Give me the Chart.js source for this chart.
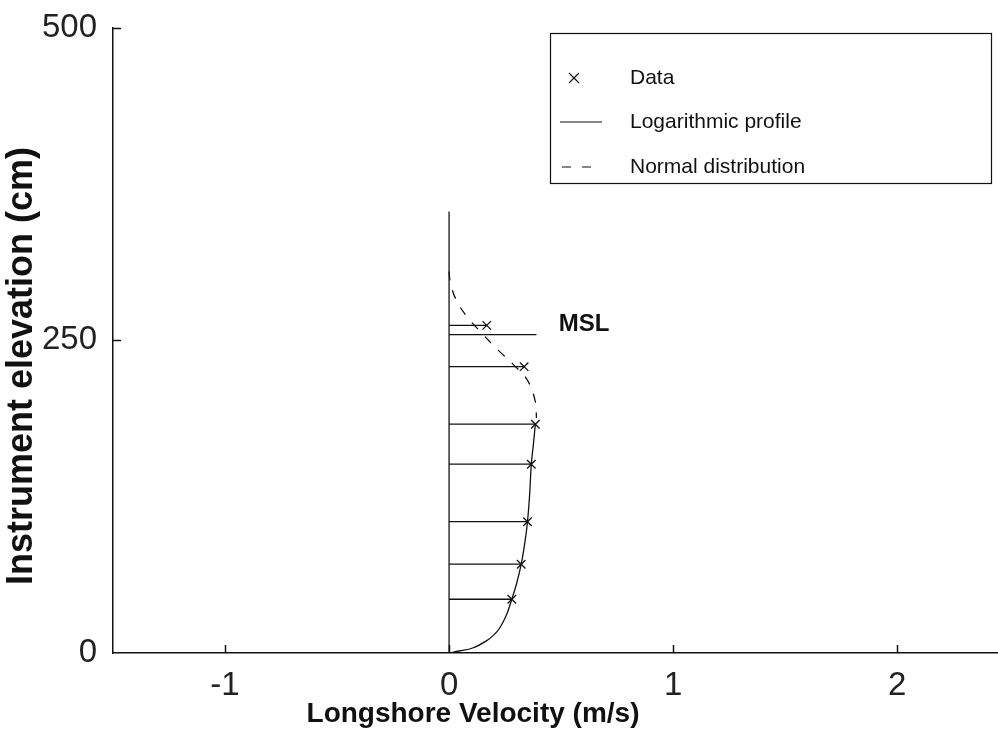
<!DOCTYPE html>
<html>
<head>
<meta charset="utf-8">
<script src="https://cdn.jsdelivr.net/npm/chart.js@4.4.1/dist/chart.umd.min.js"></script>
<style>
  html, body { margin: 0; padding: 0; background: #fff; }
  #wrap { width: 998px; height: 738px; position: relative; }
</style>
</head>
<body>
<div id="wrap"><canvas id="profile-chart"></canvas></div>
<script>
// measured velocities (m/s) at each instrument height (cm)
const dataVelocity = [0.168, 0.335, 0.385, 0.367, 0.35, 0.322, 0.28];
const dataElevation = [262, 229, 183, 151, 105, 71, 43];

// logarithmic profile
const logVelocity = [0, 0.045, 0.105, 0.165, 0.2, 0.226, 0.255, 0.28, 0.302, 0.322, 0.338, 0.35, 0.36, 0.367, 0.377, 0.385];
const logElevation = [0, 1.6, 4, 9.5, 14.5, 20, 30, 43, 56, 71, 88, 105, 128, 151, 168, 183];

// normal distribution
const normVelocity = [0, 0.005, 0.03, 0.08, 0.15, 0.22, 0.285, 0.35, 0.385, 0.39];
const normElevation = [305, 297, 283, 269, 255, 242, 231, 218, 201, 188];

// mean sea level line and the zero-velocity line
const mslElevation = 254.6;
const mslVelocity = 0.39;
const zeroLineTop = 353;

const xTicks = [-1, 0, 1, 2];
const yTicks = [0, 250, 500];

const ink = '#111';
const sans = '"Liberation Sans", Arial, sans-serif';

const stemSets = dataVelocity.map((v, i) => ({
  data: [{ x: 0, y: dataElevation[i] }, { x: v, y: dataElevation[i] }],
  borderColor: ink, borderWidth: 1.3, pointRadius: 0, showLine: true
}));

// axis titles, inward ticks, MSL label and the boxed legend
const decorations = {
  id: 'decorations',
  afterDraw(chart) {
    const { ctx, chartArea, scales: { x, y } } = chart;
    ctx.save();
    ctx.strokeStyle = ink;
    ctx.lineWidth = 1.5;
    ctx.beginPath();
    xTicks.forEach(v => {
      const px = Math.round(x.getPixelForValue(v)) + 0.5;
      ctx.moveTo(px, chartArea.bottom);
      ctx.lineTo(px, chartArea.bottom - 8);
    });
    yTicks.slice(1).forEach(v => {
      const py = Math.round(y.getPixelForValue(v)) + 0.5;
      ctx.moveTo(chartArea.left, py);
      ctx.lineTo(chartArea.left + 8, py);
    });
    ctx.stroke();

    ctx.fillStyle = ink;
    ctx.font = 'bold 24px ' + sans;
    ctx.textAlign = 'left';
    ctx.textBaseline = 'middle';
    ctx.fillText('MSL', x.getPixelForValue(0.49), y.getPixelForValue(263));

    ctx.font = 'bold 28px ' + sans;
    ctx.textAlign = 'center';
    ctx.fillText('Longshore Velocity (m/s)', 473, 714);
    ctx.save();
    ctx.translate(22, 366);
    ctx.rotate(-Math.PI / 2);
    ctx.font = 'bold 36px ' + sans;
    ctx.fillText('Instrument elevation (cm)', 0, 0);
    ctx.restore();

    // legend
    ctx.lineWidth = 1.2;
    ctx.strokeRect(550.5, 33.5, 441, 150);
    ctx.beginPath();
    ctx.moveTo(569, 73); ctx.lineTo(579, 83);
    ctx.moveTo(579, 73); ctx.lineTo(569, 83);
    ctx.moveTo(560, 122); ctx.lineTo(602, 122);
    ctx.stroke();
    ctx.setLineDash([9, 11]);
    ctx.beginPath();
    ctx.moveTo(562, 167); ctx.lineTo(593, 167);
    ctx.stroke();
    ctx.setLineDash([]);
    ctx.font = '21px ' + sans;
    ctx.textAlign = 'left';
    ctx.fillText('Data', 630, 78);
    ctx.fillText('Logarithmic profile', 630, 122);
    ctx.fillText('Normal distribution', 630, 167);
    ctx.restore();
  }
};

new Chart(document.getElementById('profile-chart'), {
  type: 'scatter',
  data: {
    datasets: [
      {
        data: [{ x: 0, y: 0 }, { x: 0, y: zeroLineTop }],
        borderColor: ink, borderWidth: 1.3, pointRadius: 0, showLine: true
      },
      {
        data: [{ x: 0, y: mslElevation }, { x: mslVelocity, y: mslElevation }],
        borderColor: ink, borderWidth: 1.3, pointRadius: 0, showLine: true
      },
      ...stemSets,
      {
        label: 'Logarithmic profile',
        data: logVelocity.map((v, i) => ({ x: v, y: logElevation[i] })),
        borderColor: ink, borderWidth: 1.3, pointRadius: 0, showLine: true,
        tension: 0.4
      },
      {
        label: 'Normal distribution',
        data: normVelocity.map((v, i) => ({ x: v, y: normElevation[i] })),
        borderColor: ink, borderWidth: 1.3, borderDash: [9, 10], pointRadius: 0, showLine: true,
        tension: 0.4
      },
      {
        label: 'Data',
        data: dataVelocity.map((v, i) => ({ x: v, y: dataElevation[i] })),
        pointStyle: 'crossRot', pointRadius: 6, pointBorderColor: ink, pointBorderWidth: 1.3,
        showLine: false
      }
    ]
  },
  options: {
    responsive: true,
    maintainAspectRatio: false,
    animation: false,
    layout: { autoPadding: false, padding: { top: 25, right: 0, left: 0, bottom: 0 } },
    plugins: { legend: { display: false }, tooltip: { enabled: false } },
    scales: {
      x: {
        type: 'linear',
        min: -1.5,
        max: 2.45,
        afterBuildTicks: s => { s.ticks = xTicks.map(v => ({ value: v })); },
        afterFit: s => { s.height = 85; },
        grid: { display: false },
        border: { color: ink, width: 1.5 },
        ticks: { color: '#222', padding: 5, font: { family: sans, size: 33 } }
      },
      y: {
        min: 0,
        max: 500,
        afterBuildTicks: s => { s.ticks = yTicks.map(v => ({ value: v })); },
        afterFit: s => { s.width = 113; },
        grid: { display: false },
        border: { color: ink, width: 1.5 },
        ticks: { color: '#222', padding: 8, font: { family: sans, size: 33 } }
      }
    }
  },
  plugins: [decorations]
});
</script>
</body>
</html>
